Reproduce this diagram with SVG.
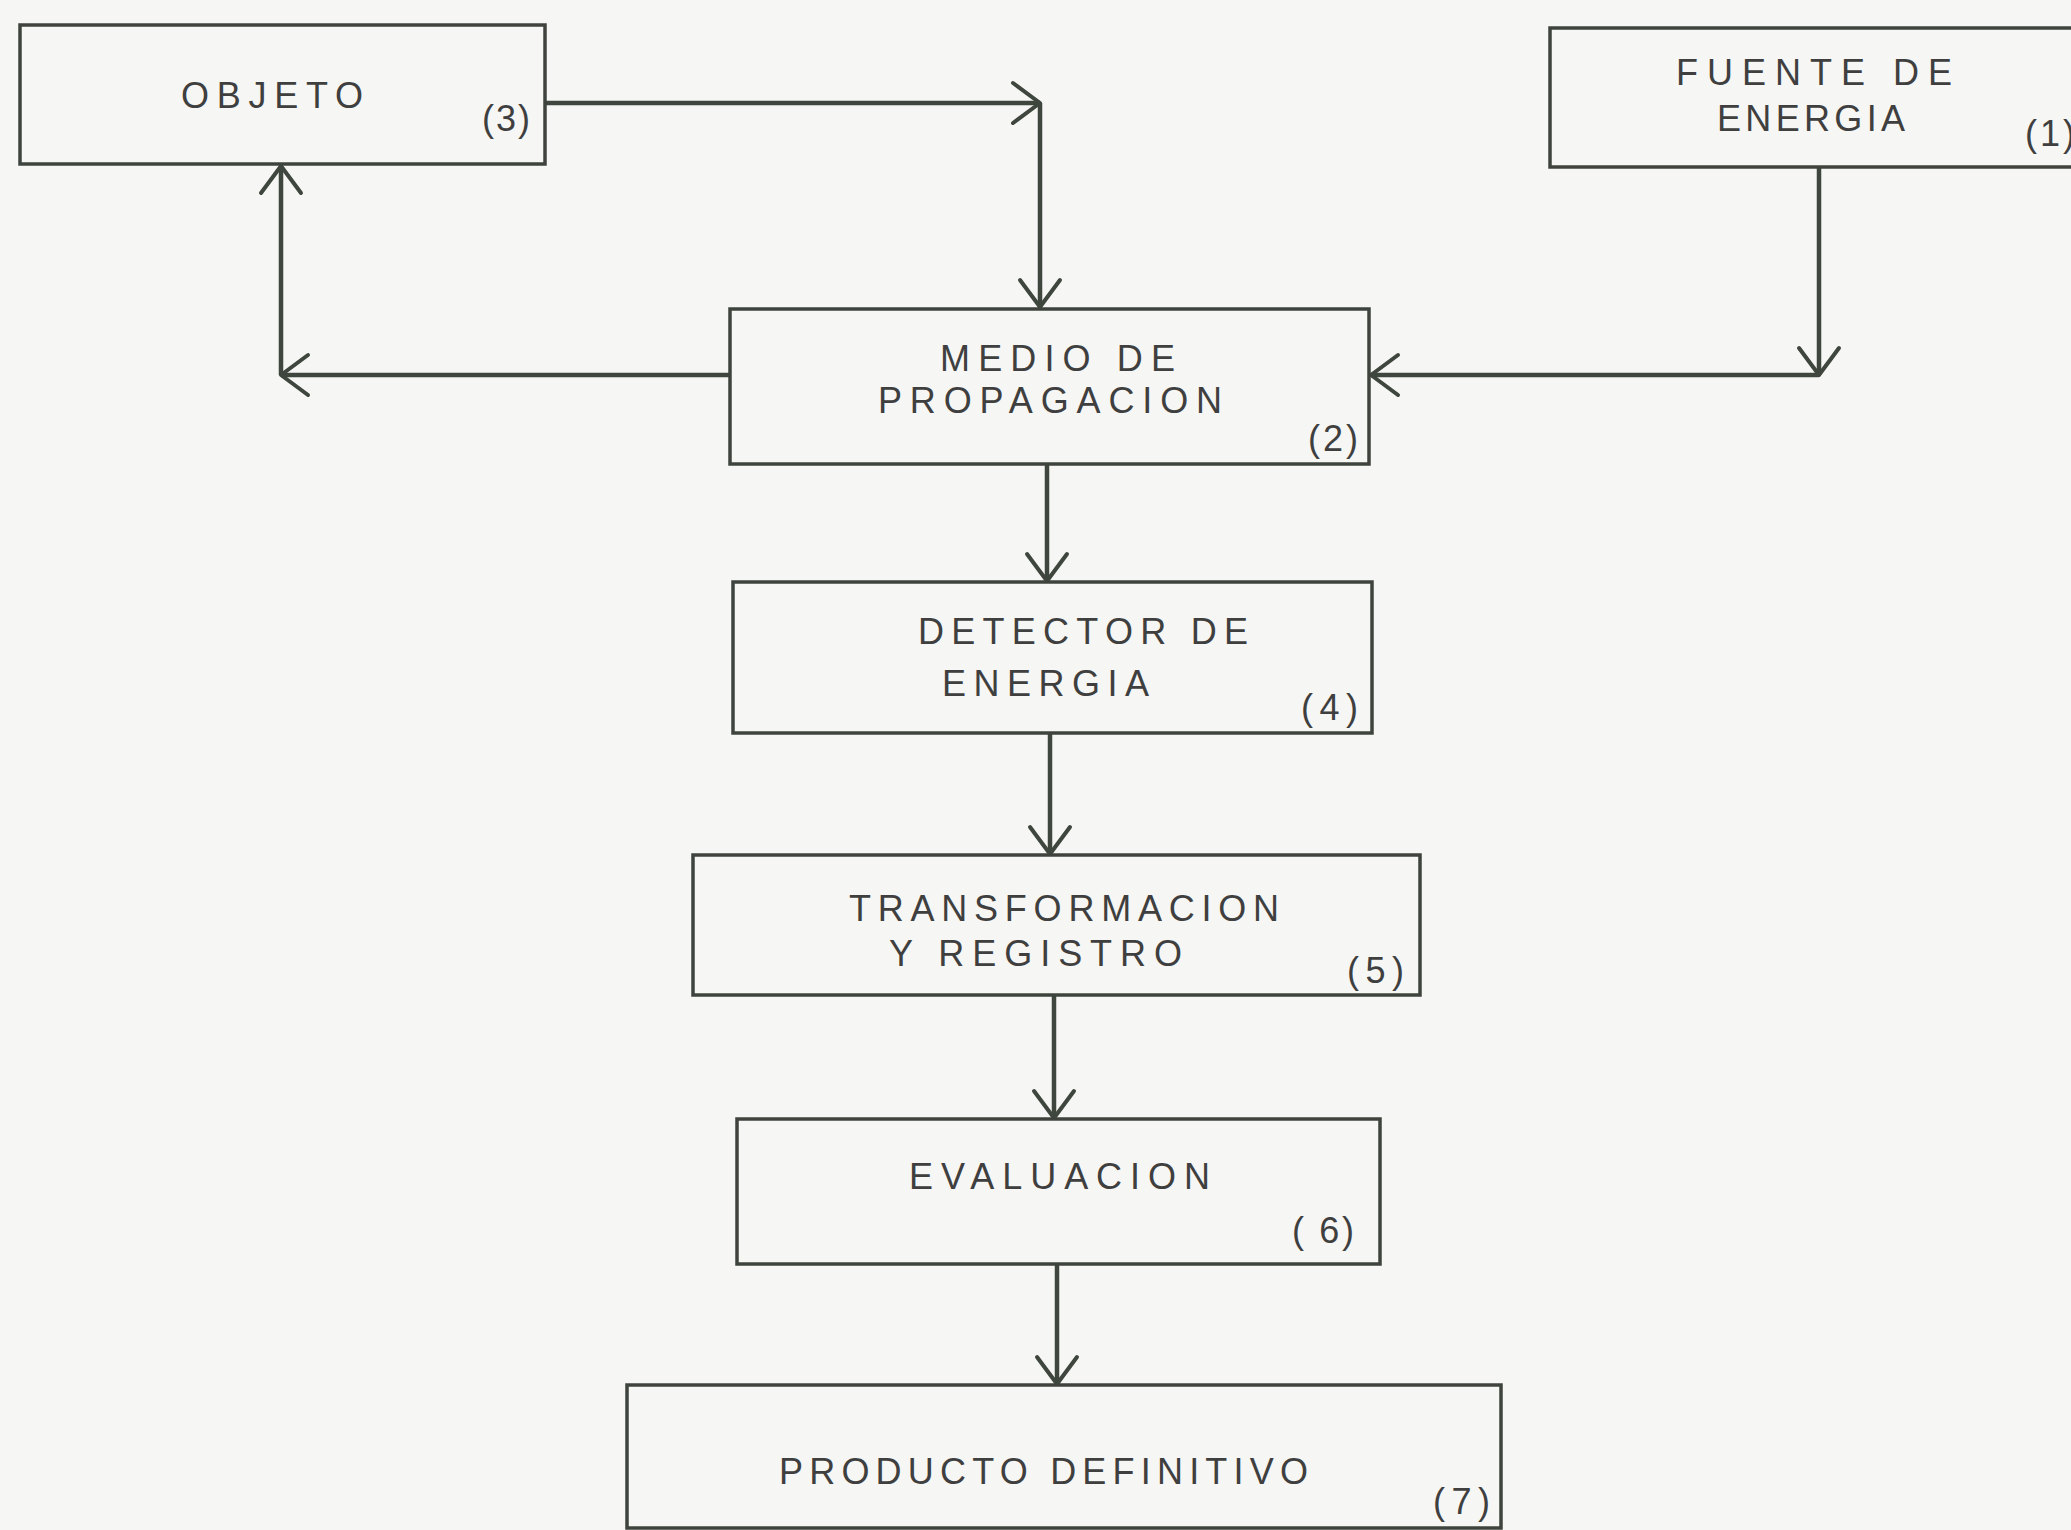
<svg xmlns="http://www.w3.org/2000/svg" width="2071" height="1530" viewBox="0 0 2071 1530">
<style>
.box{fill:none;stroke:#3e443d;stroke-width:3.5}
.lbl{font-family:"Liberation Sans Narrow","Liberation Sans",Arial,sans-serif;font-size:36px;fill:#3f3f3f;text-anchor:start}
.num{font-family:"Liberation Sans Narrow","Liberation Sans",Arial,sans-serif;font-size:36px;fill:#3f3f3f}
.con{fill:none;stroke:#3e463d;stroke-width:4.5;marker-end:url(#ah)}
</style>
<defs>
<marker id="ah" markerUnits="userSpaceOnUse" viewBox="-32 -26 36 52" markerWidth="36" markerHeight="52" refX="0" refY="0" orient="auto">
<path d="M-27,-20 L0,0 L-27,20" fill="none" stroke="#3e463d" stroke-width="4" stroke-linecap="round" stroke-linejoin="round"/>
</marker>
</defs>
<rect width="2071" height="1530" fill="#f6f6f4"/>
<g id="connectors">
<path class="con" d="M545,103 H1040"/>
<path class="con" d="M1040,103 V307"/>
<path class="con" d="M730,375 H281"/>
<path class="con" d="M281,375 V166"/>
<path class="con" d="M1819,167 V375"/>
<path class="con" d="M1819,375 H1371"/>
<path class="con" d="M1047,464 V581"/>
<path class="con" d="M1050,733 V854"/>
<path class="con" d="M1054,995 V1118"/>
<path class="con" d="M1057,1264 V1384"/>
</g>
<g id="n3">
<rect class="box" x="20" y="25" width="525" height="139"/>
<text class="lbl" x="181" y="108" textLength="182" lengthAdjust="spacing">OBJETO</text>
<text class="num" x="482" y="131" textLength="48" lengthAdjust="spacing">(3)</text>
</g>
<g id="n1">
<rect class="box" x="1550" y="28" width="600" height="139"/>
<text class="lbl" x="1676" y="85" textLength="276" lengthAdjust="spacing">FUENTE DE</text>
<text class="lbl" x="1717" y="131" textLength="188" lengthAdjust="spacing">ENERGIA</text>
<text class="num" x="2025" y="146" textLength="50" lengthAdjust="spacing">(1)</text>
</g>
<g id="n2">
<rect class="box" x="730" y="309" width="639" height="155"/>
<text class="lbl" x="940" y="371" textLength="235" lengthAdjust="spacing">MEDIO DE</text>
<text class="lbl" x="878" y="413" textLength="344" lengthAdjust="spacing">PROPAGACION</text>
<text class="num" x="1308" y="451" textLength="50" lengthAdjust="spacing">(2)</text>
</g>
<g id="n4">
<rect class="box" x="733" y="582" width="639" height="151"/>
<text class="lbl" x="918" y="644" textLength="330" lengthAdjust="spacing">DETECTOR DE</text>
<text class="lbl" x="942" y="696" textLength="207" lengthAdjust="spacing">ENERGIA</text>
<text class="num" x="1301" y="720" textLength="57" lengthAdjust="spacing">(4)</text>
</g>
<g id="n5">
<rect class="box" x="693" y="855" width="727" height="140"/>
<text class="lbl" x="849" y="921" textLength="430" lengthAdjust="spacing">TRANSFORMACION</text>
<text class="lbl" x="889" y="966" textLength="293" lengthAdjust="spacing">Y  REGISTRO</text>
<text class="num" x="1347" y="983" textLength="57" lengthAdjust="spacing">(5)</text>
</g>
<g id="n6">
<rect class="box" x="737" y="1119" width="643" height="145"/>
<text class="lbl" x="909" y="1189" textLength="301" lengthAdjust="spacing">EVALUACION</text>
<text class="num" x="1292" y="1243" textLength="62" lengthAdjust="spacing">( 6)</text>
</g>
<g id="n7">
<rect class="box" x="627" y="1385" width="874" height="143"/>
<text class="lbl" x="779" y="1484" textLength="529" lengthAdjust="spacing">PRODUCTO DEFINITIVO</text>
<text class="num" x="1433" y="1514" textLength="57" lengthAdjust="spacing">(7)</text>
</g>
</svg>
